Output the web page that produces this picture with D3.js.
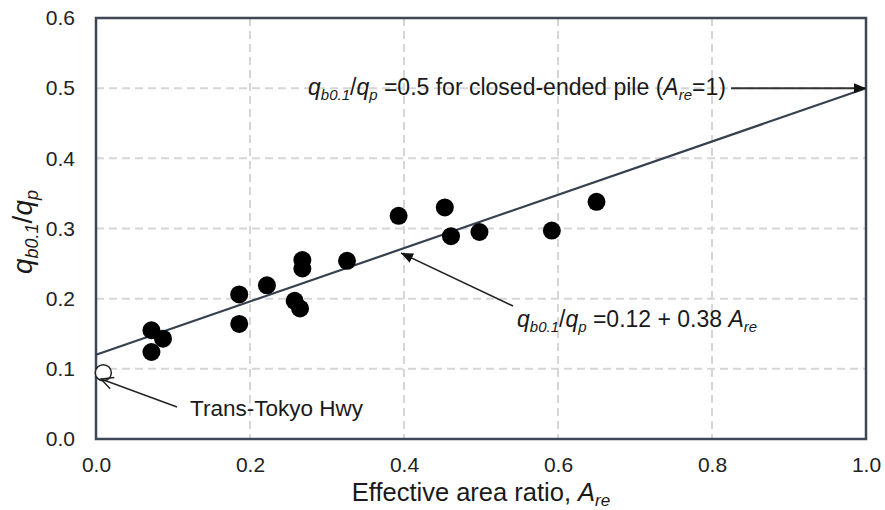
<!DOCTYPE html>
<html>
<head>
<meta charset="utf-8">
<script src="https://cdn.jsdelivr.net/npm/d3@7/dist/d3.min.js"></script>
<style>
  html, body { margin: 0; padding: 0; background: #fff; }
  svg { display: block; font-family: "Liberation Sans", Arial, sans-serif; }
</style>
</head>
<body>
<svg id="chart" width="885" height="510"></svg>
<script>
// Measured piles: effective area ratio vs. normalised base resistance
const areaRatio = [0.072, 0.087, 0.072, 0.186, 0.186, 0.222, 0.268, 0.268, 0.258, 0.265, 0.326, 0.393, 0.453, 0.461, 0.498, 0.592, 0.650];
const qRatio    = [0.155, 0.143, 0.124, 0.206, 0.164, 0.219, 0.255, 0.243, 0.197, 0.186, 0.254, 0.318, 0.330, 0.289, 0.295, 0.297, 0.338];

// Trans-Tokyo Highway case (open marker)
const transTokyo = { x: 0.0095, y: 0.0945 };

// Linear trend: q/qp = a + b * Are
const fitIntercept = 0.12;
const fitSlope = 0.38;

const xTicks = [0.0, 0.2, 0.4, 0.6, 0.8, 1.0];
const yTicks = [0.0, 0.1, 0.2, 0.3, 0.4, 0.5, 0.6];

const svg = d3.select("#chart");
const plotL = 96, plotR = 866, plotT = 18, plotB = 439;

const x = d3.scaleLinear().domain([0, 1]).range([plotL, plotR]);
const y = d3.scaleLinear().domain([0, 0.6]).range([plotB, plotT]);

const defs = svg.append("defs");
defs.append("marker")
  .attr("id", "solidHead")
  .attr("viewBox", "0 0 12 10")
  .attr("refX", 12).attr("refY", 5)
  .attr("markerWidth", 12).attr("markerHeight", 10)
  .attr("markerUnits", "userSpaceOnUse")
  .attr("orient", "auto")
  .append("path").attr("d", "M0,0 L12,5 L0,10 Z").attr("fill", "#111");
defs.append("marker")
  .attr("id", "openHead")
  .attr("viewBox", "0 0 14 14")
  .attr("refX", 13).attr("refY", 7)
  .attr("markerWidth", 14).attr("markerHeight", 14)
  .attr("markerUnits", "userSpaceOnUse")
  .attr("orient", "auto")
  .append("path").attr("d", "M1,1 L13,7 L1,13").attr("fill", "none")
  .attr("stroke", "#222").attr("stroke-width", 1.4);

// Dashed grid
const grid = svg.append("g").attr("stroke", "#d6d6d6").attr("stroke-width", 2).attr("stroke-dasharray", "8,5");
grid.selectAll(".gx").data(xTicks.slice(1, -1)).join("line")
  .attr("x1", d => x(d)).attr("x2", d => x(d)).attr("y1", plotT).attr("y2", plotB);
grid.selectAll(".gy").data(yTicks.slice(1, -1)).join("line")
  .attr("x1", plotL).attr("x2", plotR).attr("y1", d => y(d)).attr("y2", d => y(d));

// Axes (labels only; frame drawn separately)
const xAxis = d3.axisBottom(x).tickValues(xTicks).tickFormat(d3.format(".1f")).tickSize(0).tickPadding(18);
const yAxis = d3.axisLeft(y).tickValues(yTicks).tickFormat(d3.format(".1f")).tickSize(0).tickPadding(21);
const gx = svg.append("g").attr("transform", `translate(0,${plotB})`).call(xAxis);
const gy = svg.append("g").attr("transform", `translate(${plotL},0)`).call(yAxis);
[gx, gy].forEach(g => {
  g.select(".domain").remove();
  g.selectAll("text").attr("font-size", 21).attr("fill", "#222")
    .attr("font-family", "'Liberation Sans', Arial, sans-serif");
});

// Plot frame
svg.append("rect").attr("x", plotL).attr("y", plotT).attr("width", plotR - plotL).attr("height", plotB - plotT)
  .attr("fill", "none").attr("stroke", "#3d4756").attr("stroke-width", 2.5);

// Trend line
svg.append("line")
  .attr("x1", x(0)).attr("y1", y(fitIntercept))
  .attr("x2", x(1)).attr("y2", y(fitIntercept + fitSlope))
  .attr("stroke", "#36404f").attr("stroke-width", 2.2);

// Data points
svg.append("g").selectAll("circle").data(areaRatio.map((a, i) => [a, qRatio[i]])).join("circle")
  .attr("cx", d => x(d[0])).attr("cy", d => y(d[1])).attr("r", 9).attr("fill", "#000");

svg.append("circle").attr("cx", x(transTokyo.x)).attr("cy", y(transTokyo.y)).attr("r", 8)
  .attr("fill", "#fff").attr("stroke", "#222").attr("stroke-width", 1.5);

// Helper for q_sub / q_sub labels
function ratioLabel(t, size) {
  const sub = Math.round(size * 0.66);
  t.append("tspan").attr("font-style", "italic").text("q");
  t.append("tspan").attr("font-style", "italic").attr("font-size", sub).attr("dy", size * 0.22).text("b0.1");
  t.append("tspan").attr("dy", -size * 0.22).text("/");
  t.append("tspan").attr("font-style", "italic").text("q");
  t.append("tspan").attr("font-style", "italic").attr("font-size", sub).attr("dy", size * 0.22).text("p");
}

// Annotation: closed-ended pile
const a1 = svg.append("text").attr("x", 308).attr("y", 95).attr("font-size", 23).attr("fill", "#1a1a1a");
ratioLabel(a1, 23);
a1.append("tspan").attr("dy", -23 * 0.22).text(" =0.5 for closed-ended pile (");
a1.append("tspan").attr("font-style", "italic").text("A");
a1.append("tspan").attr("font-style", "italic").attr("font-size", 15).attr("dy", 5).text("re");
a1.append("tspan").attr("dy", -5).text("=1)");
svg.append("line").attr("x1", 731).attr("y1", y(0.5)).attr("x2", x(1)).attr("y2", y(0.5))
  .attr("stroke", "#333").attr("stroke-width", 2).attr("marker-end", "url(#solidHead)");

// Annotation: fitted equation
const a2 = svg.append("text").attr("x", 517).attr("y", 327).attr("font-size", 23).attr("fill", "#1a1a1a");
ratioLabel(a2, 23);
a2.append("tspan").attr("dy", -23 * 0.22).text(" =0.12 + 0.38 ");
a2.append("tspan").attr("font-style", "italic").text("A");
a2.append("tspan").attr("font-style", "italic").attr("font-size", 15).attr("dy", 5).text("re");
svg.append("line").attr("x1", 513).attr("y1", 306).attr("x2", 401).attr("y2", 253)
  .attr("stroke", "#222").attr("stroke-width", 1.5).attr("marker-end", "url(#solidHead)");

// Annotation: Trans-Tokyo Hwy
svg.append("text").attr("x", 190).attr("y", 416).attr("font-size", 22.5).attr("fill", "#1a1a1a").text("Trans-Tokyo Hwy");
svg.append("line").attr("x1", 177).attr("y1", 407).attr("x2", 101).attr("y2", 379)
  .attr("stroke", "#222").attr("stroke-width", 1.4).attr("marker-end", "url(#openHead)");

// Axis titles
const xt = svg.append("text").attr("x", 481).attr("y", 501).attr("text-anchor", "middle")
  .attr("font-size", 25.5).attr("fill", "#1a1a1a");
xt.append("tspan").text("Effective area ratio, ");
xt.append("tspan").attr("font-style", "italic").text("A");
xt.append("tspan").attr("font-style", "italic").attr("font-size", 17).attr("dy", 5).text("re");

const yt = svg.append("text").attr("transform", "translate(32,232) rotate(-90)").attr("text-anchor", "middle")
  .attr("font-size", 28).attr("fill", "#1a1a1a");
ratioLabel(yt, 28);
</script>
</body>
</html>
